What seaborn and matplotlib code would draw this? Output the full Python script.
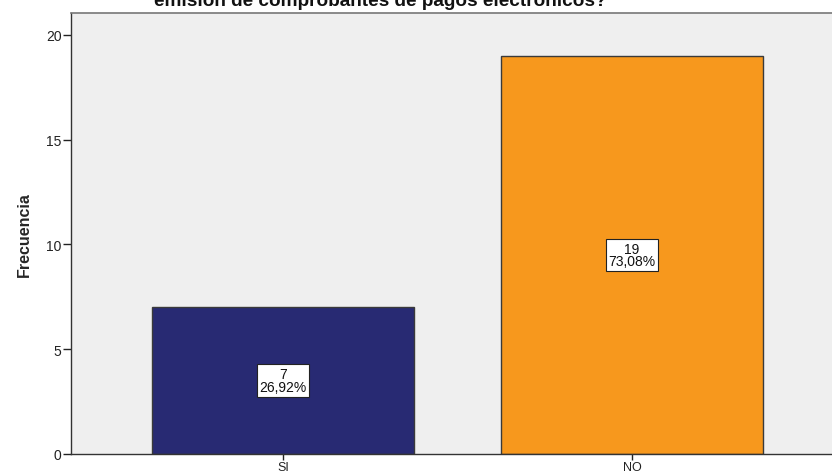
import matplotlib
matplotlib.use("Agg")
import matplotlib.pyplot as plt
import seaborn as sns
import pandas as pd

# datos del grafico
categorias = ["SI", "NO"]
frecuencias = [7, 19]
porcentajes = ["26,92%", "73,08%"]
colores = ["#282A73", "#F7981D"]

titulo = "emisión de comprobantes de pagos electrónicos?"

sns.set_theme(style="ticks")
plt.rcParams["font.family"] = ["Liberation Sans", "DejaVu Sans"]

df = pd.DataFrame({"respuesta": categorias, "frecuencia": frecuencias})

W, H = 832, 477
fig = plt.figure(figsize=(W / 100, H / 100), dpi=100)
ax = fig.add_axes([71 / W, 1 - 455 / H, (844 - 71) / W, (455 - 14) / H])
ax.set_facecolor("#EFEFEF")

sns.barplot(data=df, x="respuesta", y="frecuencia", hue="respuesta",
            palette=colores, legend=False, width=0.75, saturation=1,
            edgecolor="#3A3A3A", linewidth=1.0, ax=ax)

# etiquetas centradas en cada barra: frecuencia y porcentaje
etiquetas = [f"{f}\n{p}" for f, p in zip(frecuencias, porcentajes)]
for i, cont in enumerate(ax.containers):
    ax.bar_label(cont, labels=[etiquetas[i]], label_type="center", fontsize=10,
                 linespacing=0.9, color="#111111",
                 bbox=dict(boxstyle="square,pad=0.2", fc="white", ec="#222222", lw=0.8))

ax.set_xlim(-0.607, 1.607)
ax.set_ylim(0, 21.05)
ax.set_yticks([0, 5, 10, 15, 20])
ax.set_xlabel("")
ax.set_ylabel("Frecuencia", fontsize=11.5, fontweight="bold", labelpad=10)
ax.tick_params(axis="y", length=5.8, width=1, pad=1, labelsize=10, colors="#222222")
ax.tick_params(axis="x", length=4.5, width=1, pad=0.5, labelsize=9, colors="#222222")

for s in ["left", "bottom"]:
    ax.spines[s].set_color("#333333")
    ax.spines[s].set_linewidth(1.0)
ax.spines["top"].set_visible(True)
ax.spines["top"].set_color("#777777")
ax.spines["top"].set_linewidth(1.2)
ax.spines["right"].set_visible(False)

fig.text(380 / W, 1 - 6 / H, titulo, ha="center", va="baseline",
         fontsize=13.7, fontweight="bold", color="#111111")

fig.savefig("out.png", dpi=100)
